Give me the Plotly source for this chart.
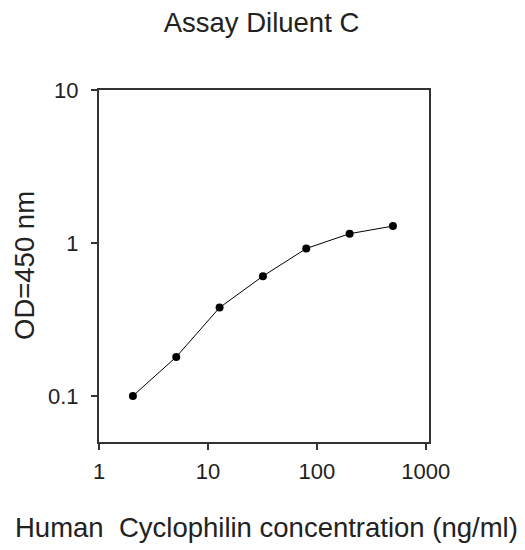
import plotly.graph_objects as go

# Data
concentration = [2.048, 5.12, 12.8, 32, 80, 200, 500]
od450 = [0.10, 0.18, 0.378, 0.607, 0.92, 1.15, 1.29]
x_tick_vals = [1, 10, 100, 1000]
x_tick_text = ["1", "10", "100", "1000"]
y_tick_vals = [0.1, 1, 10]
y_tick_text = ["0.1", "1", "10"]

title_text = "Assay Diluent C"
x_title = "Human  Cyclophilin concentration (ng/ml)"
y_title = "OD=450 nm"

FONT = "Liberation Sans, Arial, sans-serif"
TXT = "#222222"
AX = "#333333"

# page body has an 8px margin, so the figure is shifted by 8px
OFF = 8
W, H = 525 - OFF, 550 - OFF
L, T = 99 - OFF, 90 - OFF
PW, PH = 330, 352
R, B = W - L - PW, H - T - PH

fig = go.Figure()
fig.add_trace(go.Scatter(
    x=concentration, y=od450, mode="lines+markers",
    line=dict(color="black", width=1),
    marker=dict(color="black", size=8, symbol="circle"),
    showlegend=False,
))

fig.update_layout(
    width=W, height=H,
    margin=dict(l=L, r=R, t=T, b=B, pad=0),
    paper_bgcolor="white", plot_bgcolor="white",
    font=dict(family=FONT, color=TXT),
    title=dict(text=title_text, x=(261.5 - OFF) / W, xref="container", xanchor="center",
               y=1 - (22 - OFF) / H, yref="container", yanchor="middle",
               font=dict(size=27.5, family=FONT, color=TXT)),
    xaxis=dict(type="log", range=[0, 3.03],
               tickmode="array", tickvals=x_tick_vals, ticktext=x_tick_text,
               ticks="outside", ticklen=6, tickwidth=2, tickcolor=AX,
               showline=True, linecolor=AX, linewidth=2, mirror=True,
               showgrid=False, zeroline=False,
               tickfont=dict(size=22, family=FONT, color=TXT),
               ticklabelstandoff=3),
    yaxis=dict(type="log", range=[-1.30103, 1],
               tickmode="array", tickvals=y_tick_vals, ticktext=y_tick_text,
               ticks="outside", ticklen=6, tickwidth=2, tickcolor=AX,
               showline=True, linecolor=AX, linewidth=2, mirror=True,
               showgrid=False, zeroline=False,
               tickfont=dict(size=22, family=FONT, color=TXT),
               ticklabelstandoff=8),
    annotations=[
        dict(text=x_title, xref="paper", yref="paper",
             x=(266.5 - 99) / PW, y=-(527 - 442) / PH,
             xanchor="center", yanchor="middle", showarrow=False,
             font=dict(size=27.5, family=FONT, color=TXT)),
        dict(text=y_title, xref="paper", yref="paper",
             x=-(99 - 24) / PW, y=0.5,
             xanchor="center", yanchor="middle", showarrow=False, textangle=-90,
             font=dict(size=27.5, family=FONT, color=TXT)),
    ],
)

fig.write_html("out.html")
